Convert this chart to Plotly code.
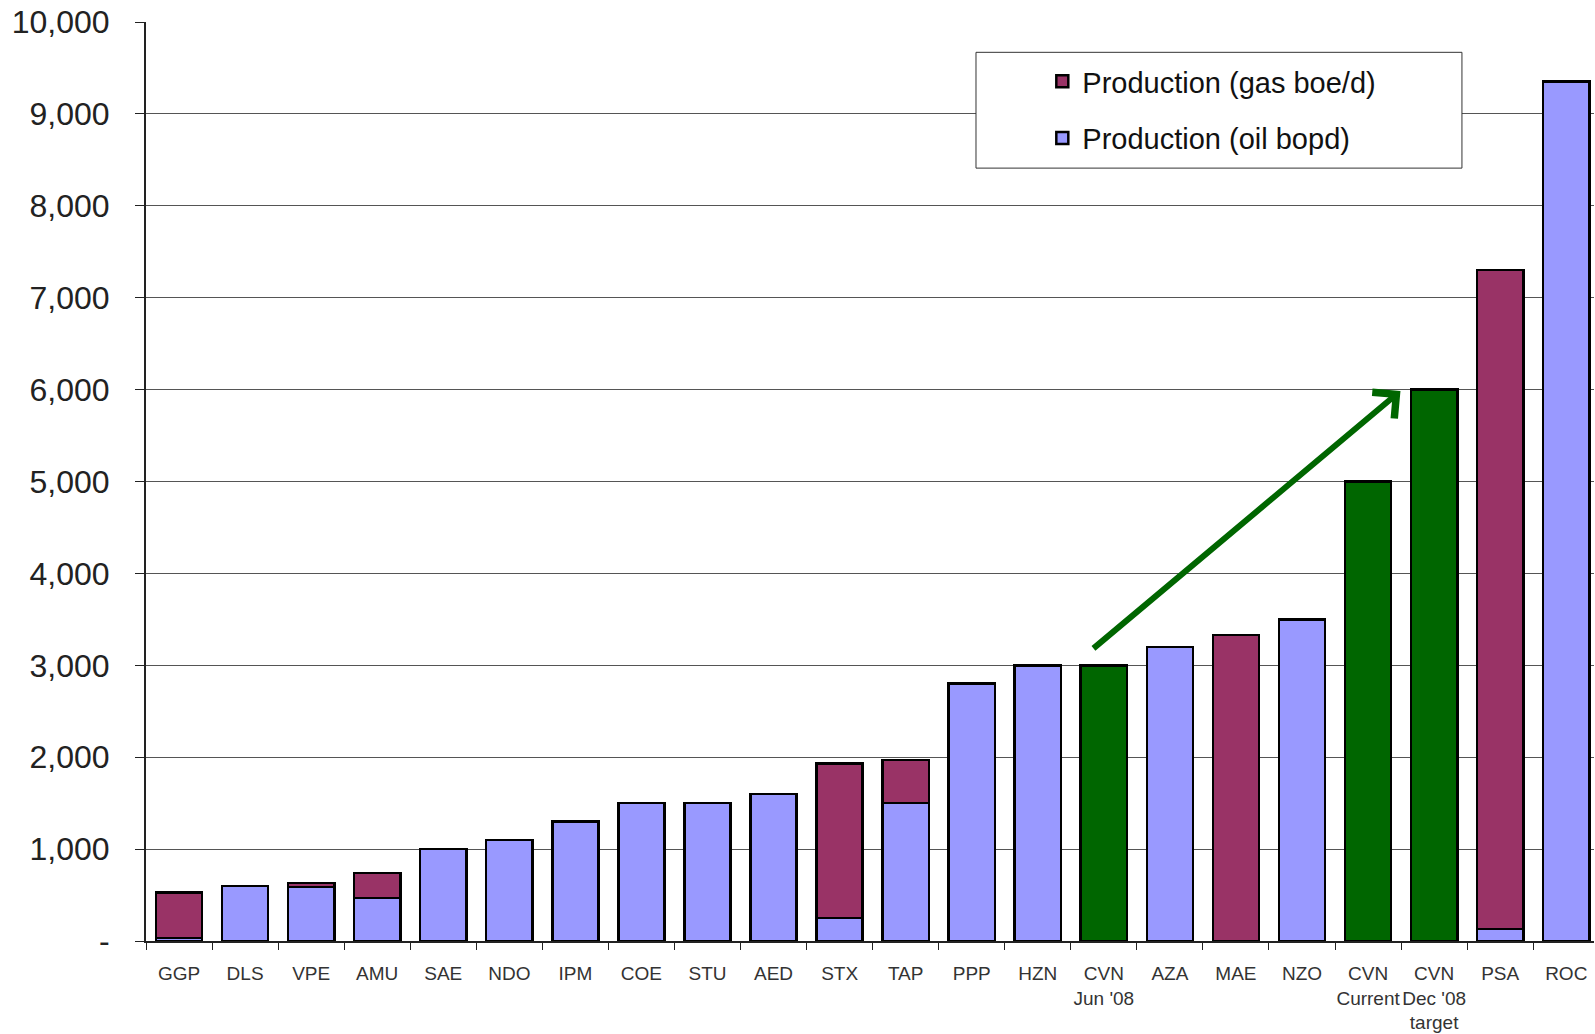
import plotly.graph_objects as go

categories = ["GGP", "DLS", "VPE", "AMU", "SAE", "NDO", "IPM", "COE", "STU", "AED",
              "STX", "TAP", "PPP", "HZN", "CVN<br>Jun '08", "AZA", "MAE", "NZO",
              "CVN<br>Current", "CVN<br>Dec '08<br>target", "PSA", "ROC"]
oil_bopd = [30, 600, 590, 470, 1000, 1100, 1300, 1500, 1500, 1600,
            250, 1500, 2800, 3000, None, 3200, None, 3500,
            None, None, 130, 9350]
gas_boed = [500, None, 40, 270, None, None, None, None, None, None,
            1680, 470, None, None, None, None, 3330, None,
            None, None, 7170, None]
cvn_values = [None] * 14 + [3000] + [None] * 3 + [5000, 6000] + [None, None]

y_tickvals = [0, 1000, 2000, 3000, 4000, 5000, 6000, 7000, 8000, 9000, 10000]
y_ticktext = ["-", "1,000", "2,000", "3,000", "4,000", "5,000", "6,000",
              "7,000", "8,000", "9,000", "10,000"]

arrow_start = (13.82, 3170)
arrow_end = (18.49, 5985)

OIL = "#9999FF"
GAS = "#993366"
GREEN = "#006600"
FONT = "Liberation Sans, Arial, sans-serif"

fig = go.Figure()
fig.add_trace(go.Bar(x=categories, y=oil_bopd, name="Production (oil bopd)",
                     marker=dict(color=OIL, line=dict(color="black", width=2.5)),
                     legendgroup="oil", legendrank=2))
fig.add_trace(go.Bar(x=categories, y=gas_boed, name="Production (gas boe/d)",
                     marker=dict(color=GAS, line=dict(color="black", width=2.5)),
                     legendgroup="gas", legendrank=1))
fig.add_trace(go.Bar(x=categories, y=cvn_values, name="CVN", showlegend=False,
                     marker=dict(color=GREEN, line=dict(color="black", width=2.5))))

fig.add_shape(type="rect", xref="paper", yref="paper",
              x0=0.5732, x1=0.9088, y0=0.841, y1=0.967,
              line=dict(color="#333333", width=1), fillcolor="white", layer="above")

fig.add_annotation(x=arrow_end[0], y=arrow_end[1], ax=arrow_start[0], ay=arrow_start[1],
                   xref="x", yref="y", axref="x", ayref="y", text="",
                   showarrow=True, arrowhead=4, arrowsize=1.1, arrowwidth=6,
                   arrowcolor=GREEN)

fig.update_layout(
    width=1595, height=1034,
    margin=dict(l=146, r=1, t=22, b=89),
    paper_bgcolor="white", plot_bgcolor="white",
    barmode="stack", bargap=0.3,
    font=dict(family=FONT, color="#222222"),
    showlegend=True,
    legend=dict(x=0.619, y=0.963, xanchor="left", yanchor="top",
                traceorder="grouped", tracegroupgap=16,
                font=dict(size=29, family=FONT, color="#111111"),
                bgcolor="rgba(0,0,0,0)", borderwidth=0),
)
fig.update_xaxes(type="category", showline=True, linecolor="#222222", linewidth=2,
                 ticks="outside", tickson="boundaries", ticklen=7, tickcolor="#222222",
                 tickfont=dict(size=19, color="#333333"), ticklabelstandoff=14,
                 showgrid=False, tickangle=0, range=[-0.5, 21.42])
fig.update_yaxes(range=[0, 10000], tickvals=y_tickvals, ticktext=y_ticktext,
                 showline=True, linecolor="#222222", linewidth=2,
                 ticks="outside", ticklen=9, tickcolor="#222222",
                 tickfont=dict(size=32, color="#222222"), ticklabelstandoff=19,
                 showgrid=True, gridcolor="#555555", gridwidth=1, zeroline=False)

fig.write_html("out.html")
